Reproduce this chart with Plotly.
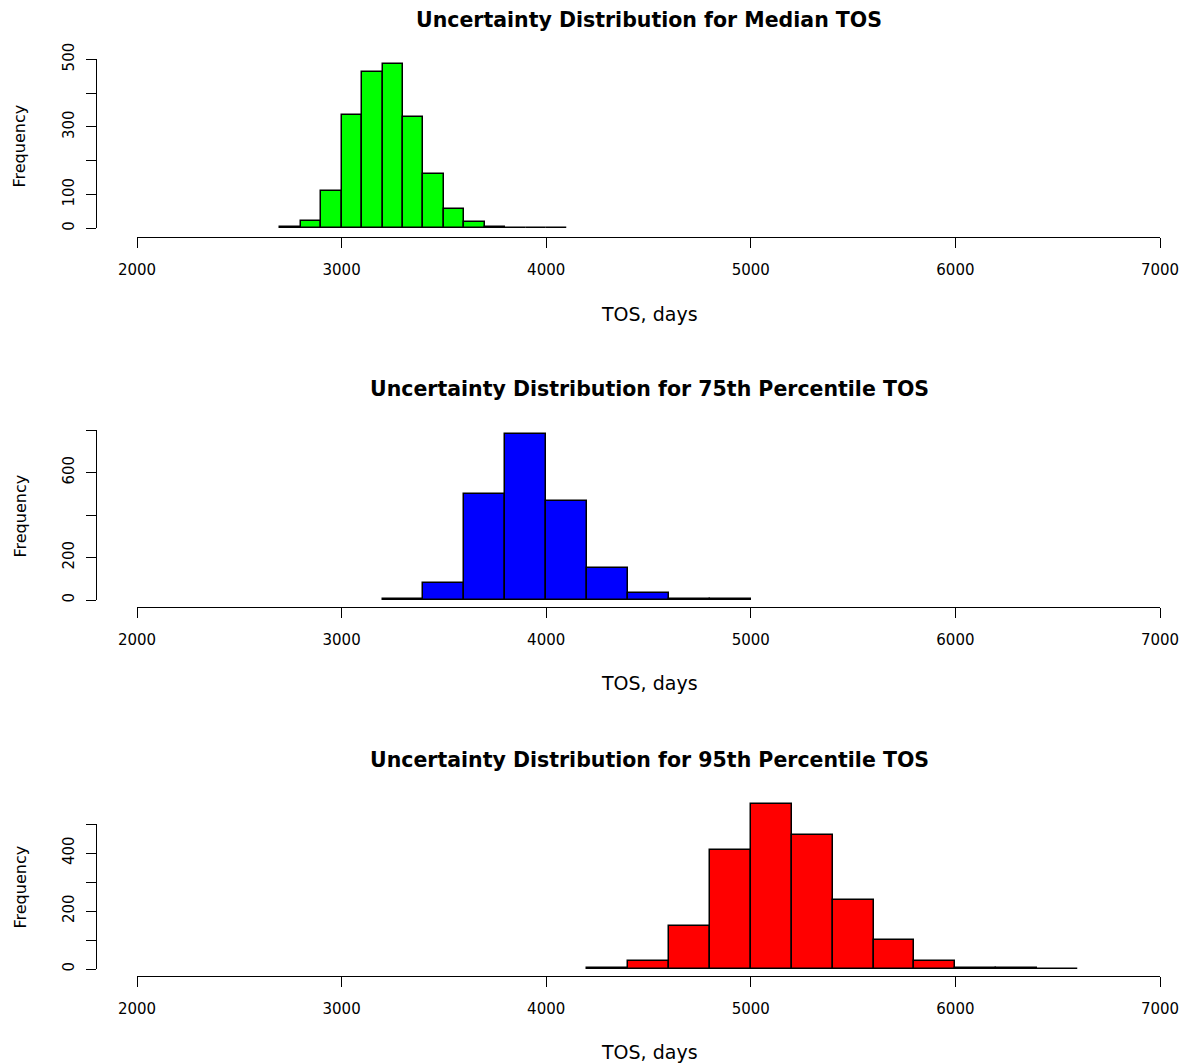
import plotly.graph_objects as go

# ---------------- data ----------------
median_breaks = [2700, 2800, 2900, 3000, 3100, 3200, 3300, 3400, 3500,
                 3600, 3700, 3800, 3900, 4000, 4100]
median_counts = [4, 22, 110, 335, 463, 486, 330, 160, 57, 18, 3, 1, 0, 1]

p75_breaks = [3200, 3400, 3600, 3800, 4000, 4200, 4400, 4600, 4800, 5000]
p75_counts = [5, 79, 500, 779, 468, 150, 33, 6, 4]

p95_breaks = [4200, 4400, 4600, 4800, 5000, 5200, 5400, 5600, 5800,
              6000, 6200, 6400, 6600]
p95_counts = [4, 29, 147, 410, 568, 461, 239, 101, 29, 4, 4, 1]

titles = ["Uncertainty Distribution for Median TOS",
          "Uncertainty Distribution for 75th Percentile TOS",
          "Uncertainty Distribution for 95th Percentile TOS"]
colors = ["#00FF00", "#0000FF", "#FF0000"]

x_tickvals = [2000, 3000, 4000, 5000, 6000, 7000]
x_ticktext = ["2000", "3000", "4000", "5000", "6000", "7000"]

y_tickvals = [[0, 100, 200, 300, 400, 500],
              [0, 200, 400, 600, 800],
              [0, 100, 200, 300, 400, 500]]
y_ticktext = [["0", "100", "", "300", "", "500"],
              ["0", "200", "", "600", ""],
              ["0", "", "200", "", "400", ""]]

x_label = "TOS, days"
y_label = "Frequency"

# ---------------- layout geometry (pixels) ----------------
W, H = 1188, 1063
FONT = "DejaVu Sans, Verdana, sans-serif"

panels = [
    dict(base=228.3, scale=0.338, axis=236.5, top=40, toptick=500, title_y=20, xlab_y=314, ylab_y=146),
    dict(base=600.0, scale=0.2125, axis=606.5, top=410, toptick=800, title_y=389, xlab_y=683, ylab_y=516),
    dict(base=969.0, scale=0.29, axis=975.5, top=780, toptick=500, title_y=760, xlab_y=1052, ylab_y=887),
]
x_left_px, x_right_px = 137.0, 1160.0
yaxis_px = 95.5
center_x = 649.0


def fy(py):
    return 1 - py / H


def fx(px):
    return px / W


data_sets = [(median_breaks, median_counts),
             (p75_breaks, p75_counts),
             (p95_breaks, p95_counts)]

fig = go.Figure()
layout = dict()
annotations = []

for i, ((brks, cnts), p) in enumerate(zip(data_sets, panels)):
    n = i + 1
    centers = [(brks[j] + brks[j + 1]) / 2 for j in range(len(cnts))]
    widths = [brks[j + 1] - brks[j] for j in range(len(cnts))]
    fig.add_trace(go.Bar(
        x=centers, y=cnts, width=widths,
        marker=dict(color=colors[i], line=dict(color="black", width=1.5)),
        xaxis=f"x{n}", yaxis=f"y{n}", showlegend=False, hoverinfo="skip"))

    ymin = -(p["axis"] - p["base"]) / p["scale"]
    ymax = (p["base"] - p["top"]) / p["scale"]
    layout[f"xaxis{n}"] = dict(
        domain=[fx(x_left_px), fx(x_right_px)], range=[2000, 7000],
        anchor=f"y{n}", showline=True, linecolor="black", linewidth=1,
        ticks="outside", ticklen=10, tickwidth=1, tickcolor="black",
        tickvals=x_tickvals, ticktext=x_ticktext, showgrid=False, zeroline=False,
        tickfont=dict(family=FONT, size=15, color="black"), ticklabelstandoff=9,
        automargin=False, fixedrange=True)
    layout[f"yaxis{n}"] = dict(
        domain=[fy(p["axis"]), fy(p["top"])], range=[ymin, ymax],
        anchor=f"x{n}", visible=False, automargin=False, fixedrange=True)

    # R-style y axis: line only from 0 to the top tick
    k = n + 3
    fig.add_trace(go.Scatter(x=[None], y=[None], xaxis=f"x{k}", yaxis=f"y{k}",
                             showlegend=False, hoverinfo="skip"))
    top_px = p["base"] - p["toptick"] * p["scale"]
    layout[f"xaxis{k}"] = dict(domain=[fx(x_left_px), fx(x_right_px)], range=[2000, 7000],
                               anchor=f"y{k}", visible=False, automargin=False,
                               fixedrange=True)
    layout[f"yaxis{k}"] = dict(
        domain=[fy(p["base"]), fy(top_px)], range=[0, p["toptick"]],
        anchor="free", position=fx(yaxis_px), side="left",
        showline=True, linecolor="black", linewidth=1,
        ticks="outside", ticklen=10, tickwidth=1, tickcolor="black",
        tickvals=y_tickvals[i], ticktext=y_ticktext[i], tickangle=-90,
        showgrid=False, zeroline=False,
        tickfont=dict(family=FONT, size=15, color="black"), ticklabelstandoff=6,
        automargin=False, fixedrange=True)

    annotations.append(dict(text=f"<b>{titles[i]}</b>", x=fx(center_x), y=fy(p["title_y"]),
                            xref="paper", yref="paper", showarrow=False,
                            xanchor="center", yanchor="middle",
                            font=dict(family=FONT, size=20.5, color="black")))
    annotations.append(dict(text=x_label, x=fx(center_x), y=fy(p["xlab_y"]),
                            xref="paper", yref="paper", showarrow=False,
                            xanchor="center", yanchor="middle",
                            font=dict(family=FONT, size=19, color="black")))
    annotations.append(dict(text=y_label, x=fx(19.5), y=fy(p["ylab_y"]),
                            xref="paper", yref="paper", showarrow=False, textangle=-90,
                            xanchor="center", yanchor="middle",
                            font=dict(family=FONT, size=16, color="black")))

fig.update_layout(
    width=W, height=H, autosize=False,
    margin=dict(l=0, r=0, t=0, b=0, pad=0, autoexpand=False),
    paper_bgcolor="white", plot_bgcolor="rgba(0,0,0,0)",
    bargap=0, annotations=annotations, **layout)

fig.write_html("out.html")
